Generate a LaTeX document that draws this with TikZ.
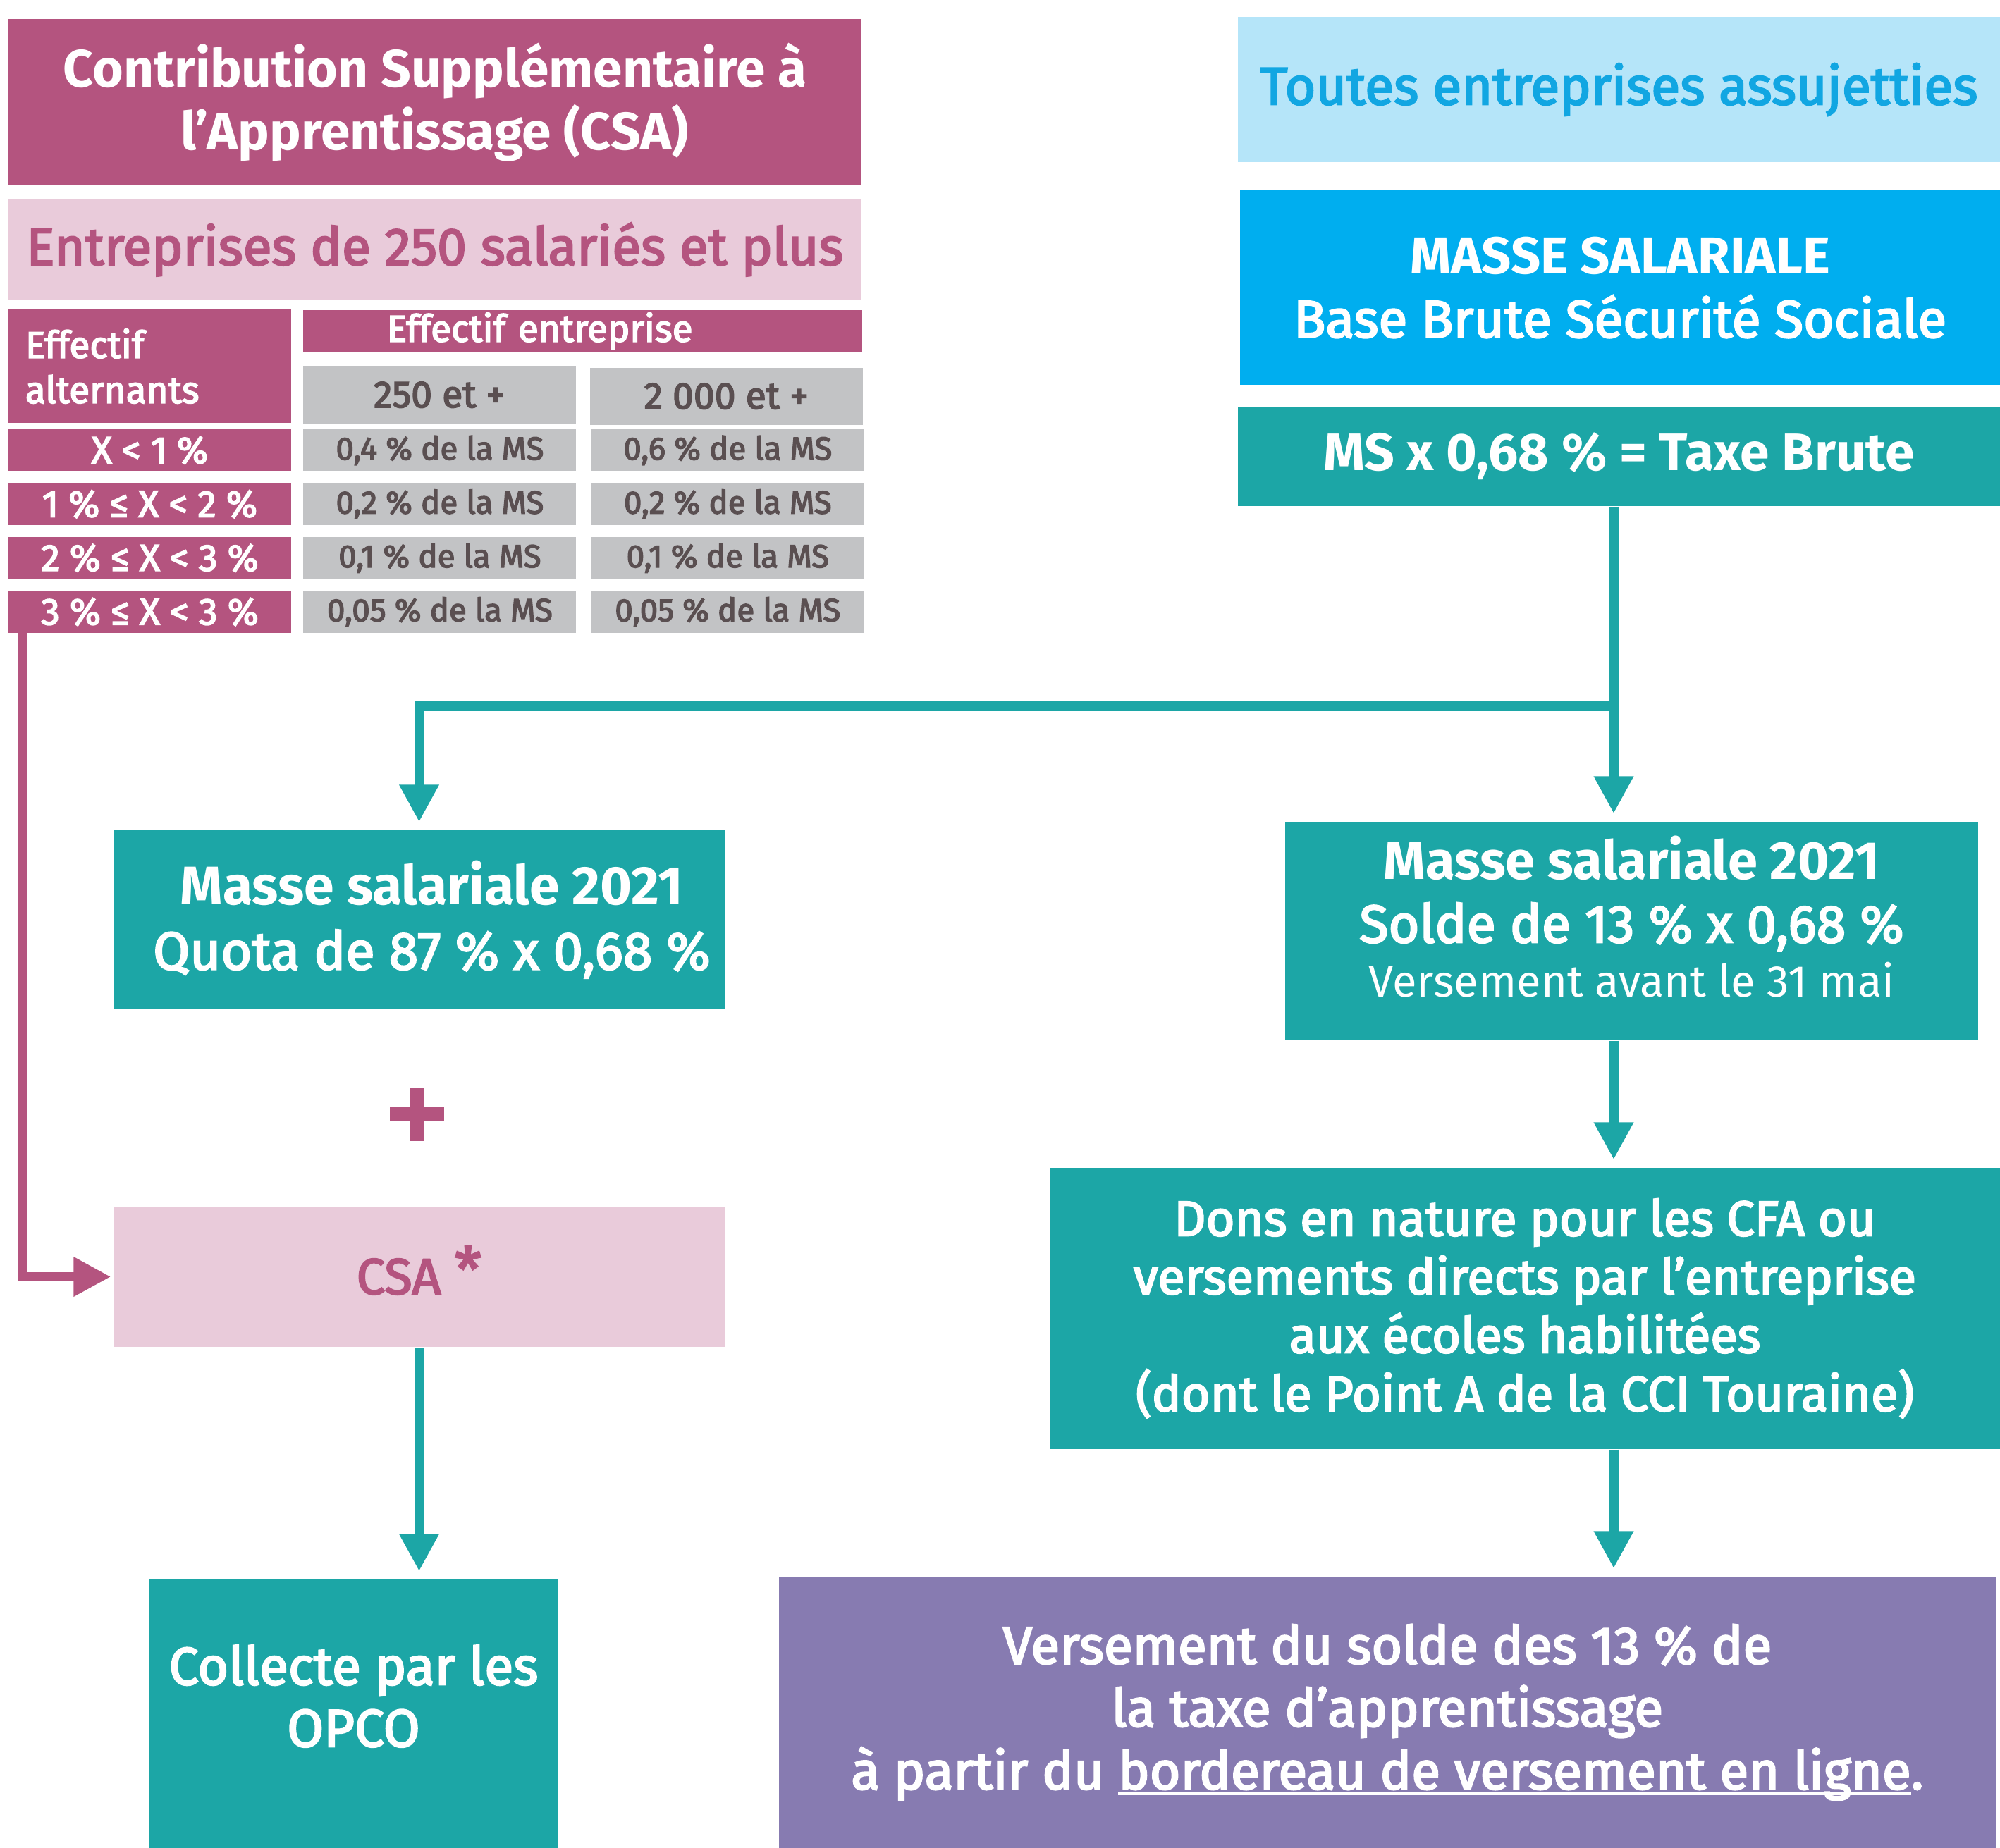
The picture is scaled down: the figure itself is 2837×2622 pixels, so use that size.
\documentclass[tikz,border=0pt]{standalone}
\usepackage{fontspec}
\setmainfont{Fira Sans}
\newfontfamily\medfont[FakeBold=3]{Fira Sans}
\usetikzlibrary{arrows.meta, positioning, calc}

\definecolor{csamag}{HTML}{B4547F}
\definecolor{csapink}{HTML}{E9CBDA}
\definecolor{cellgray}{HTML}{C2C3C5}
\definecolor{celltext}{HTML}{5A4F51}
\definecolor{allblue}{HTML}{B5E5F9}
\definecolor{alltext}{HTML}{11A6E2}
\definecolor{massblue}{HTML}{00AEEF}
\definecolor{taxteal}{HTML}{1CA6A6}
\definecolor{payviolet}{HTML}{877BB1}

\newcommand{\setfs}[2]{\fontsize{#1}{#2}\selectfont}
\newcommand{\linkul}[1]{\setbox0\hbox{#1}\rlap{\rule[-2.3pt]{\wd0}{0.9pt}}\box0}

\begin{document}
\begin{tikzpicture}[
        x=0.1mm, y=-0.1mm,
        % Global Styles
        block/.style={rectangle, inner sep=0pt, align=center, text=white},
        magblock/.style={block, fill=csamag},
        pinkblock/.style={block, fill=csapink, text=csamag},
        tealblock/.style={block, fill=taxteal},
        cell/.style={block, fill=cellgray, text=celltext, minimum width=38.7mm, minimum height=5.9mm, font=\medfont\setfs{13}{15}},
        rowlab/.style={magblock, minimum width=40.1mm, minimum height=5.9mm, font=\medfont\setfs{15.2}{17}},
        line/.style={draw=taxteal, line width=1.4mm, -{Triangle[length=5.3mm, width=5.3mm]}, shorten >=1.1mm}, % Teal Arrow
        pinkline/.style={draw=csamag, line width=1.3mm, -{Triangle[length=5.3mm, width=5.3mm]}, shorten >=0.3mm} % CSA Arrow
    ]

    \useasboundingbox (0,0) rectangle (2837,2622);

    % --- Nodes ---

    % 1. CSA Header
    \node [magblock, minimum width=121mm, minimum height=23.6mm, font=\bfseries\setfs{21.3}{25.3}] (csa) at (617,145) {Contribution Supplémentaire à\\l’Apprentissage (CSA)};
    \node [pinkblock, minimum width=121mm, minimum height=14.2mm, font=\medfont\setfs{21.3}{25}] (big) at (617,354) {Entreprises de 250 salariés et plus};

    % 2. Rate Table
    \node [magblock, minimum width=40.1mm, minimum height=16.1mm, text width=35.3mm, align=left, inner xsep=2.4mm, font=\medfont\setfs{15.1}{18.2}] (effalt) at (212.5,519.5) {Effectif\\alternants};
    \node [magblock, anchor=north west, minimum width=79.3mm, minimum height=6mm, text width=55.5mm, align=left, inner xsep=11.9mm, font=\medfont\setfs{15.1}{17}] (effent) at (429,439) {Effectif entreprise};
    \node [cell, anchor=north west, minimum height=8.1mm, font=\medfont\setfs{15.2}{17}] (c250) at (429,519) {250 et +};
    \node [cell, anchor=north west, minimum height=8.1mm, font=\medfont\setfs{15.2}{17}] (c2000) at (836,521) {2 000 et +};

    \node [rowlab, below=0.8mm of effalt] (r1) {X < 1 \%};
    \node [cell, right=1.6mm of r1] (r1a) {0,4 \% de la MS};
    \node [cell, right=2mm of r1a] (r1b) {0,6 \% de la MS};

    \node [rowlab, below=1.6mm of r1] (r2) {1 \% ≤ X < 2 \%};
    \node [cell, right=1.6mm of r2] (r2a) {0,2 \% de la MS};
    \node [cell, right=2mm of r2a] (r2b) {0,2 \% de la MS};

    \node [rowlab, below=1.6mm of r2] (r3) {2 \% ≤ X < 3 \%};
    \node [cell, right=1.6mm of r3] (r3a) {0,1 \% de la MS};
    \node [cell, right=2mm of r3a] (r3b) {0,1 \% de la MS};

    \node [rowlab, below=1.6mm of r3] (r4) {3 \% ≤ X < 3 \%};
    \node [cell, right=1.6mm of r4] (r4a) {0,05 \% de la MS};
    \node [cell, right=2mm of r4a] (r4b) {0,05 \% de la MS};

    % 3. Tax Base (right column)
    \node [block, fill=allblue, text=alltext, minimum width=108.1mm, minimum height=20.6mm, font=\medfont\setfs{21.4}{24}] (all) at (2296.5,127) {Toutes entreprises assujetties};
    \node [block, fill=massblue, minimum width=107.8mm, minimum height=27.6mm, font=\setfs{21}{25.6}] (mass) at (2298,408) {{\bfseries MASSE SALARIALE}\\{\medfont\setfs{21.3}{25.6}Base Brute Sécurité Sociale}};
    \node [tealblock, minimum width=108.1mm, minimum height=14.1mm, font=\bfseries\setfs{21.3}{25}] (tax) at (2296.5,647.5) {MS x 0,68 \% = Taxe Brute};

    % 4. Quota + CSA
    \node [tealblock, minimum width=86.7mm, minimum height=25.3mm, font=\setfs{21.9}{26.2}] (quota) at (594.5,1304.5) {\hspace*{3.6mm}{\bfseries Masse salariale 2021}\\\hspace*{3.6mm}{\medfont\setfs{21.5}{26.2}Quota de 87 \% x 0,68 \%}};
    \node [pinkblock, minimum width=86.7mm, minimum height=19.9mm, font=\medfont\setfs{20.5}{24}] (csabox) at (594.5,1811.5) {CSA \smash{\raisebox{0.05em}{\setfs{25}{25}*}}};
    \node [tealblock, minimum width=57.9mm, minimum height=39mm, text depth=6mm, font=\medfont\setfs{21.4}{25}] (opco) at (501.5,2436) {Collecte par les\\OPCO};

    % 5. Solde
    \node [tealblock, minimum width=98.3mm, minimum height=31mm, text depth=4.2mm, font=\setfs{21.6}{25.6}] (solde) at (2314.5,1321) {{\bfseries Masse salariale 2021}\\{\medfont\setfs{21.5}{25.6}Solde de 13 \% x 0,68 \%}\\[-3.7pt]{\setfs{18}{21.9}Versement avant le 31 mai}};
    \node [tealblock, minimum width=134.8mm, minimum height=39.9mm, font=\medfont\setfs{20}{23.6}] (dons) at (2163,1856.5) {Dons en nature pour les CFA ou\\versements directs par l’entreprise\\aux écoles habilitées\\(dont le Point A de la CCI Touraine)};
    \node [block, fill=payviolet, minimum width=172.6mm, minimum height=38.5mm, font=\medfont\setfs{21.3}{25.3}] (pay) at (1968,2429.5) {Versement du solde des 13 \% de\\la taxe d’apprentissage\\à partir du \linkul{bordereau de versement en ligne}.};

    % --- Paths ---

    % Plus sign
    \coordinate (plus) at (591.5,1581);
    \draw [csamag, line width=2mm] ($(plus)+(-38.5,0)$) -- ($(plus)+(38.5,0)$) ($(plus)+(0,-38)$) -- ($(plus)+(0,38)$);

    % Tax to both shares
    \coordinate (trunk) at (2289,1002);
    \draw [line] (tax.south -| trunk) -- (solde.north -| trunk);
    \draw [line] (trunk) -| (quota.north);

    % Solde chain
    \draw [line] (solde.south -| trunk) -- (dons.north -| trunk);
    \draw [line] (dons.south -| trunk) -- (pay.north -| trunk);

    % CSA chain
    \draw [line] (csabox.south) -- (csabox.south |- opco.north);
    \draw [pinkline] ($(r4.south west)+(21,0)$) |- (csabox.west);

\end{tikzpicture}
\end{document}
